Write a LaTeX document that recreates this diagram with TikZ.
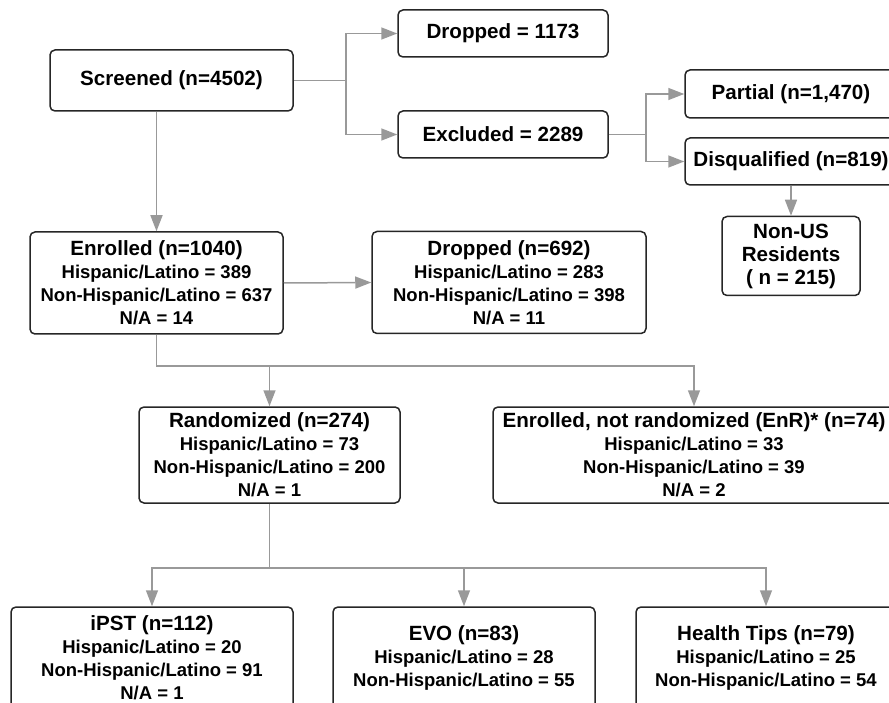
\documentclass[tikz,border=0pt]{standalone}
\usepackage{fontspec}
\setmainfont{Liberation Sans}
\usetikzlibrary{arrows.meta}

\newcommand{\headfont}{\fontsize{20.6}{23}\selectfont\bfseries}
\newcommand{\linefont}{\fontsize{18.5}{23}\selectfont\bfseries}

\begin{document}
\begin{tikzpicture}[x=1pt,y=-1pt,
  box/.style={draw=black!85,line width=1.5pt,rounded corners=5pt,fill=white,
    align=center,inner sep=1pt,font=\linefont},
  arr/.style={draw=black!40,line width=1.5pt,
    -{Triangle[length=16pt,width=12pt]}}]
\useasboundingbox (0,0) rectangle (889,703);
\clip (0,0) rectangle (889,703);
% ---- screening ----
\node[box,minimum width=243,minimum height=61,font=\headfont] (screen) at (171.5,80.5)
  {Screened (n=4502)};
\node[box,minimum width=210,minimum height=47,font=\headfont] (drop1) at (503,33.5)
  {Dropped = 1173};
\node[box,minimum width=210,minimum height=47,font=\headfont] (excl) at (503,134.5)
  {Excluded = 2289};
\node[box,minimum width=212,minimum height=48,font=\headfont] (partial) at (791,94)
  {Partial (n=1,470)};
\node[box,minimum width=212,minimum height=47,font=\headfont] (disq) at (791,161.5)
  {Disqualified (n=819)};
\node[box,minimum width=138,minimum height=79,font=\headfont] (nonus) at (791,256)
  {Non-US\\Residents\\( n = 215)};
% ---- enrolment ----
\node[box,minimum width=253,minimum height=102] (enrol) at (156.5,283)
  {{\headfont Enrolled (n=1040)}\\Hispanic/Latino = 389\\Non-Hispanic/Latino = 637\\N/A = 14};
\node[box,minimum width=274,minimum height=102] (drop2) at (509,282.5)
  {{\headfont Dropped (n=692)}\\Hispanic/Latino = 283\\Non-Hispanic/Latino = 398\\N/A = 11};
\node[box,minimum width=261,minimum height=96] (rand) at (269.5,455)
  {{\headfont Randomized (n=274)}\\Hispanic/Latino = 73\\Non-Hispanic/Latino = 200\\N/A = 1};
\node[box,minimum width=402,minimum height=96] (enr) at (694,455)
  {{\headfont Enrolled, not randomized (EnR)* (n=74)}\\Hispanic/Latino = 33\\Non-Hispanic/Latino = 39\\N/A = 2};
% ---- study arms ----
\node[box,minimum width=282,minimum height=102] (ipst) at (152,658)
  {{\headfont iPST (n=112)}\\Hispanic/Latino = 20\\Non-Hispanic/Latino = 91\\N/A = 1};
\node[box,minimum width=262,minimum height=102] (evo) at (464,658)
  {{\headfont EVO (n=83)}\\Hispanic/Latino = 28\\Non-Hispanic/Latino = 55};
\node[box,minimum width=260,minimum height=102] (tips) at (766,658)
  {{\headfont Health Tips (n=79)}\\Hispanic/Latino = 25\\Non-Hispanic/Latino = 54};
% ---- connectors ----
\draw[arr] (screen.east) -- ++(52,0) |- (drop1.west);
\draw[arr] (screen.east) -- ++(52,0) |- (excl.west);
\draw[arr] (excl.east) -- ++(37,0) |- (partial.west);
\draw[arr] (excl.east) -- ++(37,0) |- (disq.west);
\draw[arr] (disq.south) -- (nonus.north);
\draw[arr] (enrol.north |- screen.south) -- (enrol.north);
\draw[arr] (enrol.east) -- (drop2.west);
\draw[arr] (enrol.south) -- ++(0,31) -| (rand.north);
\draw[arr] (enrol.south) -- ++(0,31) -| (enr.north);
\draw[arr] (rand.south) -- ++(0,64) -| (ipst.north);
\draw[arr] (rand.south) -- ++(0,64) -| (evo.north);
\draw[arr] (rand.south) -- ++(0,64) -| (tips.north);
\end{tikzpicture}
\end{document}
